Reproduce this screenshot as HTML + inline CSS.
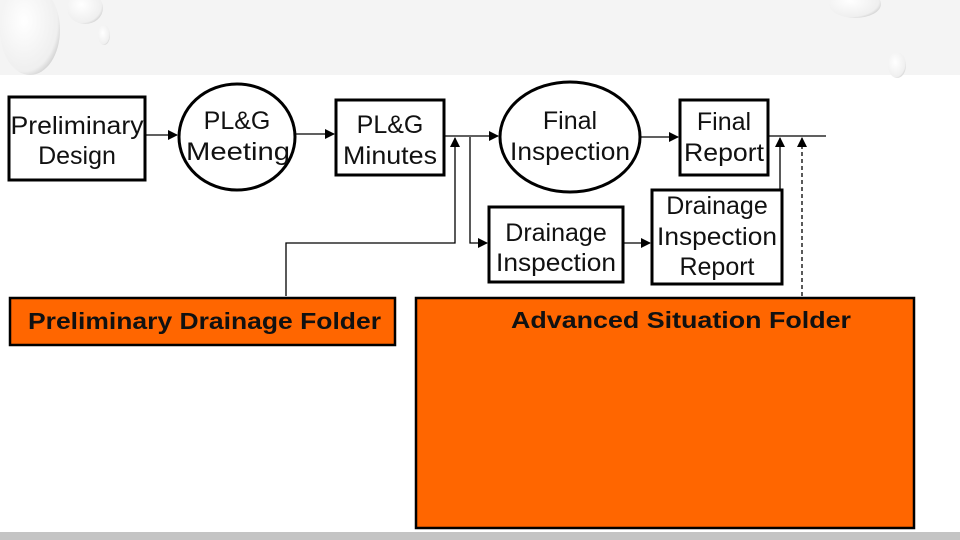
<!DOCTYPE html>
<html><head><style>
html,body{margin:0;padding:0;width:960px;height:540px;overflow:hidden;background:#fff}
svg{display:block}
text{font-family:"Liberation Sans",sans-serif;fill:#111}
</style></head><body>
<svg width="960" height="540" viewBox="0 0 960 540" xmlns="http://www.w3.org/2000/svg">
<defs>
<marker id="a" markerWidth="10" markerHeight="10" refX="9" refY="5" orient="auto" markerUnits="userSpaceOnUse">
<path d="M0,0 L10,5 L0,10 z" fill="#000"/></marker>
<radialGradient id="d" cx="0.4" cy="0.4" r="0.7"><stop offset="0" stop-color="#fff"/><stop offset="0.8" stop-color="#efefef"/><stop offset="1" stop-color="#c0c0c0"/></radialGradient>
</defs>
<rect x="0" y="0" width="960" height="75" fill="#f4f4f4"/>
<ellipse cx="30" cy="30" rx="30" ry="45" fill="url(#d)"/>
<ellipse cx="85" cy="8" rx="18" ry="16" fill="url(#d)"/>
<ellipse cx="104" cy="35" rx="6" ry="10" fill="url(#d)"/>
<ellipse cx="855" cy="4" rx="26" ry="14" fill="url(#d)"/>
<ellipse cx="897" cy="65" rx="9" ry="13" fill="url(#d)"/>
<rect x="0" y="532" width="960" height="8" fill="#c4c4c4"/>

<g fill="none" stroke="#000" stroke-width="3">
<rect x="9" y="97" width="136" height="83" fill="#fff"/>
<ellipse cx="237" cy="137" rx="58" ry="53" fill="#fff"/>
<rect x="336" y="100" width="108" height="75" fill="#fff"/>
<ellipse cx="570" cy="137" rx="70" ry="55" fill="#fff"/>
<rect x="680" y="100" width="88" height="75" fill="#fff"/>
<rect x="489" y="207" width="134" height="75" fill="#fff"/>
<rect x="652" y="190" width="130" height="94" fill="#fff"/>
</g>
<g fill="none" stroke="#000" stroke-width="1.3">
<line x1="146" y1="135" x2="177" y2="135" marker-end="url(#a)"/>
<line x1="296" y1="134" x2="334" y2="134" marker-end="url(#a)"/>
<line x1="445" y1="136" x2="498" y2="136" marker-end="url(#a)"/>
<polyline points="286,296 286,243 455,243 455,138" marker-end="url(#a)"/>
<polyline points="470,137 470,243 487,243" marker-end="url(#a)"/>
<line x1="640" y1="137" x2="678" y2="137" marker-end="url(#a)"/>
<line x1="768" y1="136" x2="826" y2="136"/>
<line x1="780" y1="189" x2="780" y2="138" marker-end="url(#a)"/>
<line x1="623" y1="243" x2="650" y2="243" marker-end="url(#a)"/>
<line x1="802" y1="296" x2="802" y2="138" stroke-dasharray="4,3" marker-end="url(#a)"/>
</g>
<g font-size="25" text-anchor="middle">
<text x="77" y="134" textLength="133" lengthAdjust="spacingAndGlyphs">Preliminary</text><text x="77" y="164">Design</text>
<text x="237" y="129">PL&amp;G</text><text x="238" y="160" textLength="104" lengthAdjust="spacingAndGlyphs">Meeting</text>
<text x="390" y="133">PL&amp;G</text><text x="390" y="164" textLength="94" lengthAdjust="spacingAndGlyphs">Minutes</text>
<text x="570" y="129">Final</text><text x="570" y="160" textLength="120" lengthAdjust="spacingAndGlyphs">Inspection</text>
<text x="724" y="130">Final</text><text x="724" y="161" textLength="80" lengthAdjust="spacingAndGlyphs">Report</text>
<text x="556" y="241">Drainage</text><text x="556" y="271" textLength="120" lengthAdjust="spacingAndGlyphs">Inspection</text>
<text x="717" y="214">Drainage</text><text x="717" y="245" textLength="120" lengthAdjust="spacingAndGlyphs">Inspection</text><text x="717" y="275">Report</text>
</g>
<rect x="10" y="298" width="385" height="47" fill="#ff6600" stroke="#000" stroke-width="2.5"/>
<rect x="416" y="298" width="498" height="230" fill="#ff6600" stroke="#000" stroke-width="2.5"/>
<text x="28" y="329" font-size="23" font-weight="bold" textLength="353" lengthAdjust="spacingAndGlyphs">Preliminary Drainage Folder</text>
<text x="511" y="328" font-size="23" font-weight="bold" textLength="340" lengthAdjust="spacingAndGlyphs">Advanced Situation Folder</text>
</svg>
</body></html>
